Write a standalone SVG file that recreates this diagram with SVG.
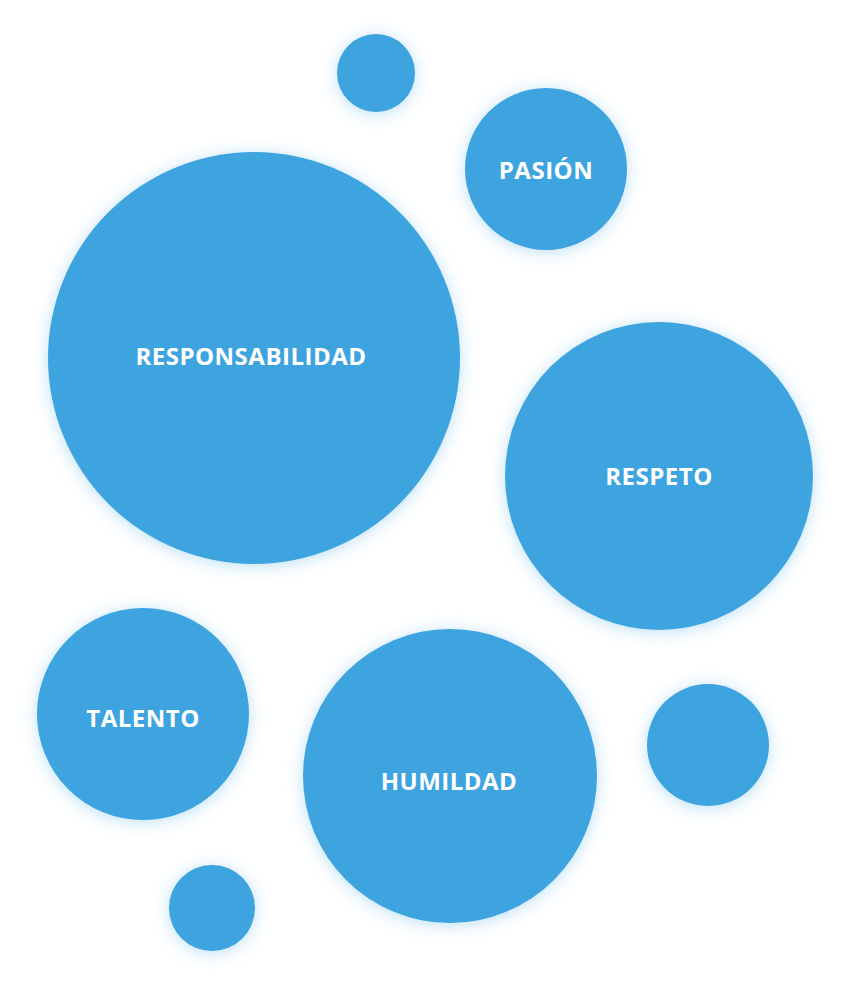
<svg xmlns="http://www.w3.org/2000/svg" width="852" height="993" viewBox="0 0 852 993">
<defs>
<filter id="glow" x="-30%" y="-30%" width="160%" height="160%">
<feGaussianBlur in="SourceAlpha" stdDeviation="8"/>
<feOffset dy="2" result="b"/>
<feFlood flood-color="#3ea4e0" flood-opacity="0.35"/>
<feComposite in2="b" operator="in"/>
<feMerge><feMergeNode/><feMergeNode in="SourceGraphic"/></feMerge>
</filter>
</defs>
<style>
circle{fill:#3ea4e0;filter:url(#glow)}
text{fill:#fff;font-family:"Open Sans","Liberation Sans",sans-serif;font-weight:bold;font-size:24px;text-anchor:middle;dominant-baseline:central;letter-spacing:0.5px}
</style>
<rect width="852" height="993" fill="#fff"/>
<g id="small-top"><circle cx="376" cy="73" r="39"/></g>
<g id="pasion"><circle cx="546" cy="169" r="81"/><text x="546" y="169">PASIÓN</text></g>
<g id="responsabilidad"><circle cx="254" cy="358" r="206"/><text x="251" y="355">RESPONSABILIDAD</text></g>
<g id="respeto"><circle cx="659" cy="476" r="154"/><text x="659" y="475">RESPETO</text></g>
<g id="talento"><circle cx="143" cy="714" r="106"/><text x="143" y="717">TALENTO</text></g>
<g id="humildad"><circle cx="450" cy="776" r="147"/><text x="449" y="780">HUMILDAD</text></g>
<g id="small-right"><circle cx="708" cy="745" r="61"/></g>
<g id="small-bottom"><circle cx="212" cy="908" r="43"/></g>
<g id="connectors"/>
</svg>
